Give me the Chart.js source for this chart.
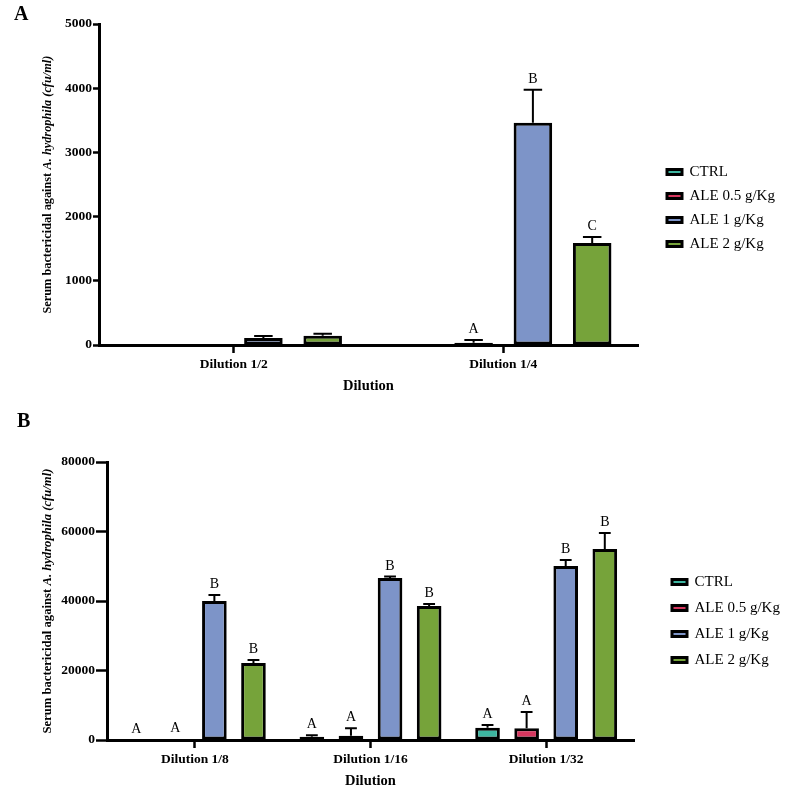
<!DOCTYPE html>
<html>
<head>
<meta charset="utf-8">
<script src="https://cdn.jsdelivr.net/npm/chart.js@4.4.1/dist/chart.umd.min.js"></script>
<style>
  html, body { margin: 0; padding: 0; background: #fff; }
  body { width: 787px; height: 790px; position: relative; overflow: hidden; font-family: 'Liberation Serif', 'Times New Roman', serif; }
  .panel { position: absolute; left: 0; width: 787px; height: 395px; }
  .tag { position: absolute; font-weight: bold; font-size: 20px; line-height: 1; }
</style>
</head>
<body>
<div class="panel" style="top:0"><canvas id="chartA"></canvas></div>
<div class="panel" style="top:395px"><canvas id="chartB"></canvas></div>
<div class="tag" style="left:14px; top:3px">A</div>
<div class="tag" style="left:17px; top:410px">B</div>
<script>
const FONT = "'Liberation Serif', 'Times New Roman', serif";

const seriesNames = ['CTRL', 'ALE 0.5 g/Kg', 'ALE 1 g/Kg', 'ALE 2 g/Kg'];
const seriesColors = ['#3db5a0', '#d6375f', '#7d94c8', '#76a33a'];
const yTitleMain = 'Serum bactericidal against ';
const yTitleItalic = 'A. hydrophila (cfu/ml)';
const xTitle = 'Dilution';

// panel A
const dilutionsA = ['Dilution 1/2', 'Dilution 1/4'];
const ctrlA = [0, 0];
const ctrlErrA = [0, 0];
const ale05A = [8, 36];
const ale05ErrA = [0, 42];
const ale1A = [110, 3460];
const ale1ErrA = [30, 514];
const ale2A = [145, 1590];
const ale2ErrA = [30, 93];
const lettersA = [['', ''], ['', 'A'], ['', 'B'], ['', 'C']];

// panel B
const dilutionsB = ['Dilution 1/8', 'Dilution 1/16', 'Dilution 1/32'];
const ctrlB = [0, 950, 3540];
const ctrlErrB = [0, 400, 780];
const ale05B = [200, 1240, 3370];
const ale05ErrB = [0, 2130, 4690];
const ale1B = [40000, 46620, 50070];
const ale1ErrB = [1730, 430, 1730];
const ale2B = [22160, 38560, 54960];
const ale2ErrB = [860, 580, 4610];
const lettersB = [['A', 'A', 'A'], ['A', 'A', 'A'], ['B', 'B', 'B'], ['B', 'B', 'B']];

// moves the legend box where the reference has it, and fixes its width
const legendPlacer = {
  id: 'legendPlacer',
  afterInit(chart, args, opts) {
    const lg = chart.legend;
    const fit = lg.fit.bind(lg);
    lg.fit = function () { fit(); this.width = chart.width - opts.right; };
  },
  afterLayout(chart, args, opts) {
    const lg = chart.legend;
    const pad = lg.options.labels.padding;
    lg.left = opts.x - pad; lg.right = lg.left + lg.width;
    lg.top = opts.y - pad; lg.bottom = lg.top + lg.height;
  }
};

// upper error bars + significance letters
const errorBars = {
  id: 'errorBars',
  afterDatasetsDraw(chart) {
    const ctx = chart.ctx, y = chart.scales.y;
    chart.data.datasets.forEach((ds, di) => {
      chart.getDatasetMeta(di).data.forEach((bar, i) => {
        const top = y.getPixelForValue(ds.data[i] + ds.errors[i]);
        ctx.save();
        ctx.strokeStyle = '#000';
        ctx.lineWidth = 2;
        if (ds.errors[i] > 0) {
          const hw = bar.width * 0.24;
          ctx.beginPath();
          ctx.moveTo(bar.x, bar.y);
          ctx.lineTo(bar.x, top);
          ctx.moveTo(bar.x - hw, top);
          ctx.lineTo(bar.x + hw, top);
          ctx.stroke();
        }
        if (ds.letters[i]) {
          ctx.fillStyle = '#000';
          ctx.font = '14px ' + FONT;
          ctx.textAlign = 'center';
          ctx.textBaseline = 'alphabetic';
          ctx.fillText(ds.letters[i], bar.x, Math.min(top, bar.y) - 7);
        }
        ctx.restore();
      });
    });
  }
};

// y title with an italic species name
const yTitle = {
  id: 'yTitle',
  afterDraw(chart, args, opts) {
    const ctx = chart.ctx, area = chart.chartArea;
    ctx.save();
    ctx.font = 'bold 10px ' + FONT;
    let w1 = ctx.measureText(yTitleMain).width;
    ctx.font = 'italic bold 10px ' + FONT;
    let w2 = ctx.measureText(yTitleItalic).width;
    const size = 10 * opts.length / (w1 + w2);
    w1 *= size / 10; w2 *= size / 10;
    ctx.translate(opts.x, (area.top + area.bottom) / 2);
    ctx.rotate(-Math.PI / 2);
    ctx.fillStyle = '#000';
    ctx.textBaseline = 'middle';
    ctx.textAlign = 'left';
    const start = -(w1 + w2) / 2;
    ctx.font = 'bold ' + size + 'px ' + FONT;
    ctx.fillText(yTitleMain, start, 0);
    ctx.font = 'italic bold ' + size + 'px ' + FONT;
    ctx.fillText(yTitleItalic, start + w1, 0);
    ctx.restore();
  }
};

function buildChart(id, o) {
  return new Chart(document.getElementById(id), {
    type: 'bar',
    data: {
      labels: o.labels,
      datasets: o.series.map((s, k) => ({
        label: seriesNames[k],
        data: s[0],
        errors: s[1],
        letters: o.letters[k],
        backgroundColor: seriesColors[k],
        borderColor: '#000',
        borderWidth: 3,
        borderSkipped: false,
        barPercentage: o.barPct,
        categoryPercentage: o.catPct
      }))
    },
    options: {
      responsive: true,
      maintainAspectRatio: false,
      animation: false,
      layout: { padding: { top: o.top, left: 0, right: 0, bottom: 0 } },
      scales: {
        x: {
          grid: { display: true, offset: false, drawOnChartArea: false, tickLength: 8, tickWidth: 2.5, tickColor: '#000' },
          border: { display: true, color: '#000', width: 3 },
          ticks: { color: '#000', font: { family: FONT, size: 13.5, weight: 'bold' }, padding: 3, maxRotation: 0 },
          title: { display: true, text: xTitle, color: '#000', font: { family: FONT, size: 14.5, weight: 'bold' }, padding: 0 },
          afterFit: s => { s.height = 50; }
        },
        y: {
          min: 0,
          max: o.yMax,
          grid: { drawOnChartArea: false, tickLength: o.yTick, tickWidth: 2.5, tickColor: '#000' },
          border: { display: true, color: '#000', width: 3 },
          ticks: {
            stepSize: o.yStep,
            color: '#000',
            font: { family: FONT, size: 13.5, weight: 'bold' },
            padding: 1,
            callback: v => String(v)
          },
          afterFit: s => { s.width = o.left; }
        }
      },
      plugins: {
        legend: {
          position: 'right',
          align: 'start',
          labels: { boxWidth: 15, boxHeight: 5, padding: o.legendGap, color: '#000', font: { family: FONT, size: 15 } }
        },
        tooltip: { enabled: false },
        legendPlacer: { x: o.legendX, y: o.legendY, right: o.right },
        yTitle: { x: 48, length: o.titleLen }
      }
    },
    plugins: [legendPlacer, errorBars, yTitle]
  });
}

buildChart('chartA', {
  labels: dilutionsA,
  series: [[ctrlA, ctrlErrA], [ale05A, ale05ErrA], [ale1A, ale1ErrA], [ale2A, ale2ErrA]],
  letters: lettersA,
  yMax: 5000, yStep: 1000, yTick: 6,
  top: 24, left: 99, right: 638,
  barPct: 0.65, catPct: 0.88,
  legendX: 667, legendY: 164.5, legendGap: 9,
  titleLen: 258
});

buildChart('chartB', {
  labels: dilutionsB,
  series: [[ctrlB, ctrlErrB], [ale05B, ale05ErrB], [ale1B, ale1ErrB], [ale2B, ale2ErrB]],
  letters: lettersB,
  yMax: 80000, yStep: 20000, yTick: 11,
  top: 67, left: 107, right: 634,
  barPct: 0.63, catPct: 0.89,
  legendX: 672, legendY: 179.5, legendGap: 11,
  titleLen: 265
});
</script>
</body>
</html>
